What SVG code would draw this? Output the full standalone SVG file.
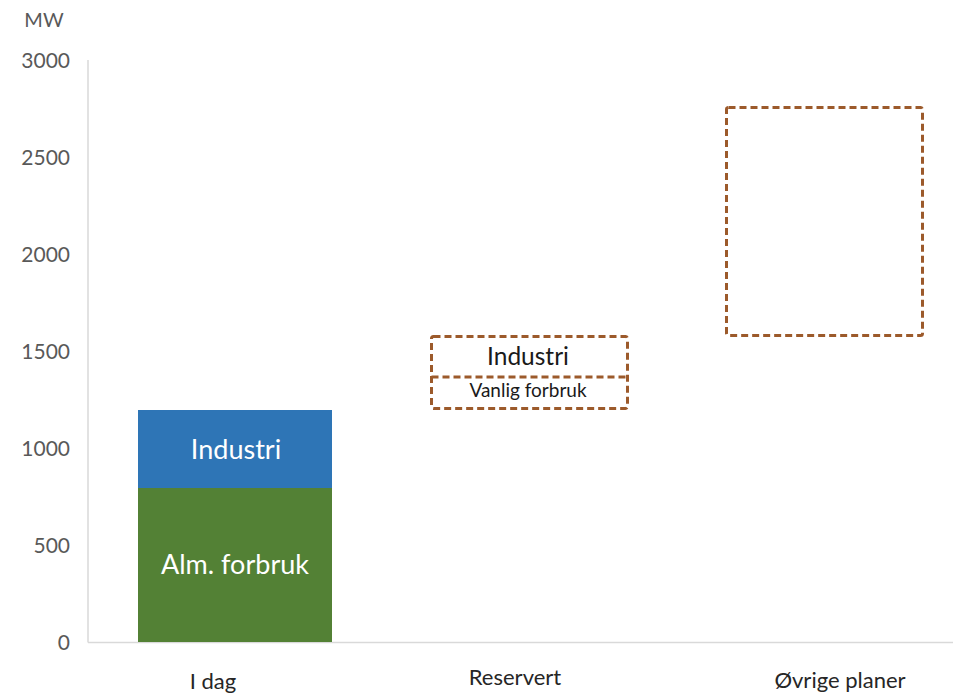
<svg xmlns="http://www.w3.org/2000/svg" width="953" height="694" viewBox="0 0 953 694">
  <style>
    text { font-family: Lato, "Open Sans", "Liberation Sans", sans-serif; }
    .tick { font-size: 21px; fill: #595959; text-anchor: end; }
    .cat { font-size: 22px; fill: #262626; text-anchor: middle; }
    .axis { stroke: #d9d9d9; stroke-width: 1.5; fill: none; }
    .dash { fill: none; stroke: #9c5a2b; stroke-width: 3; stroke-dasharray: 7 4; }
    .inbar { font-size: 27px; fill: #ffffff; text-anchor: middle; }
    .inbox { text-anchor: middle; fill: #1a1a1a; }
  </style>
  <rect width="953" height="694" fill="#ffffff"/>

  <!-- axes -->
  <g id="axes">
    <line class="axis" x1="88" y1="60" x2="88" y2="642.5"/>
    <line class="axis" x1="88" y1="642.5" x2="953" y2="642.5"/>
    <text x="44" y="27" style="font-size:20px;fill:#595959;text-anchor:middle">MW</text>
    <text class="tick" x="70" y="68">3000</text>
    <text class="tick" x="70" y="165">2500</text>
    <text class="tick" x="70" y="262">2000</text>
    <text class="tick" x="70" y="359">1500</text>
    <text class="tick" x="70" y="456">1000</text>
    <text class="tick" x="70" y="553">500</text>
    <text class="tick" x="70" y="650">0</text>
  </g>

  <!-- today: stacked bar -->
  <g id="i-dag">
    <rect x="138" y="488" width="194" height="154" fill="#538135"/>
    <rect x="138" y="410" width="194" height="78" fill="#2e75b6"/>
    <text class="inbar" x="236" y="459">Industri</text>
    <text class="inbar" x="235" y="574">Alm. forbruk</text>
    <text class="cat" x="213" y="689">I dag</text>
  </g>

  <!-- reserved capacity -->
  <g id="reservert">
    <rect class="dash" x="431.5" y="336.5" width="196" height="72" rx="2"/>
    <line class="dash" x1="431.5" y1="377" x2="627.5" y2="377"/>
    <text class="inbox" x="528" y="365" style="font-size:24.5px">Industri</text>
    <text class="inbox" x="528" y="397" style="font-size:19px">Vanlig forbruk</text>
    <text class="cat" x="515" y="685">Reservert</text>
  </g>

  <!-- other plans -->
  <g id="ovrige-planer">
    <rect class="dash" x="726.5" y="107.5" width="196" height="228" rx="2"/>
    <text class="cat" x="840" y="688">Øvrige planer</text>
  </g>
</svg>
